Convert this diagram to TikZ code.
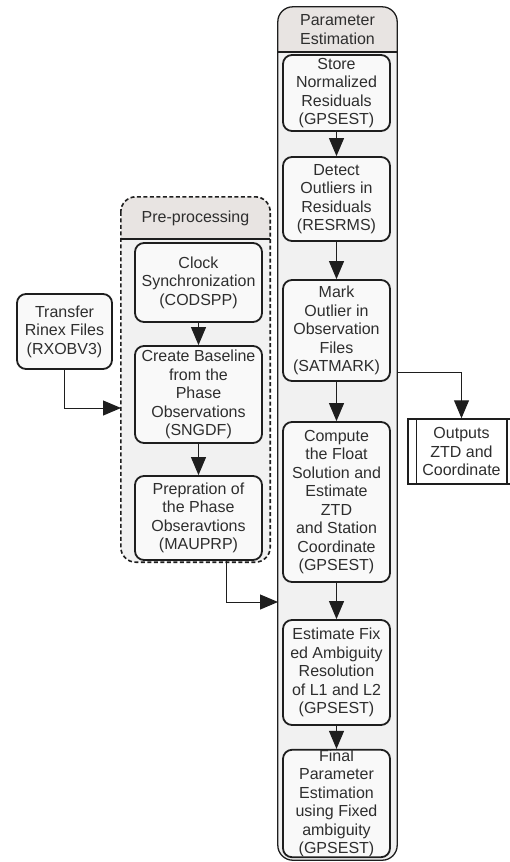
\documentclass[tikz,border=0pt]{standalone}
\usepackage{fontspec}
\setmainfont{Liberation Sans}
\usetikzlibrary{arrows.meta}
\definecolor{boxfill}{HTML}{F9F9F9}
\definecolor{contfill}{HTML}{F1F1F1}
\definecolor{headfill}{HTML}{E8E4E2}
\definecolor{txt}{HTML}{2E2E2E}
\definecolor{edge}{HTML}{1E1E1E}
\begin{document}
\begin{tikzpicture}[x=1pt,y=-1pt,
  font=\fontsize{16}{18.5}\selectfont,
  proc/.style={draw=edge, line width=1.8pt, fill=boxfill, rounded corners=9pt, align=center, text=txt, inner sep=0pt},
  contbox/.style={fill=contfill, inner sep=0pt},
  head/.style={align=center, text=txt, inner sep=0pt},
  arr/.style={draw=edge, line width=1pt, -{Triangle[width=15pt,length=18pt]}},
]
\useasboundingbox (0,0) rectangle (509,862);
\fill[white] (0,0) rectangle (509,862);

% Parameter Estimation container
\node[contbox, rounded corners=15pt, minimum width=119pt, minimum height=853pt] (pe) at (337.5,433.5) {};
\begin{scope}
  \clip (278,7) rectangle (397,52);
  \fill[headfill, rounded corners=15pt] (pe.north west) rectangle (pe.south east);
\end{scope}
\draw[edge, line width=1.3pt, rounded corners=15pt] (pe.north west) rectangle (pe.south east);
\coordinate (peh1) at (278,52);
\coordinate (peh2) at (397,52);
\draw[edge, line width=1.3pt] (peh1) -- (peh2);
\node[head] (pehead) at (337.5,29.5) {Parameter\\Estimation};

% Pre-processing container
\node[contbox, rounded corners=15pt, minimum width=149pt, minimum height=365pt] (pre) at (195.5,379.5) {};
\begin{scope}
  \clip (121,197) rectangle (270,239);
  \fill[headfill, rounded corners=15pt] (pre.north west) rectangle (pre.south east);
\end{scope}
\draw[edge, line width=1.6pt, dash pattern=on 4pt off 2.5pt, rounded corners=15pt] (pre.north west) rectangle (pre.south east);
\coordinate (preh1) at (121,239);
\coordinate (preh2) at (270,239);
\draw[edge, line width=1.3pt] (preh1) -- (preh2);
\node[head] (prehead) at (195.5,218) {Pre-processing};

% Parameter estimation boxes
\node[proc, minimum width=107pt, minimum height=76pt] (store) at (336.5,93) {Store\\Normalized\\Residuals\\(GPSEST)};
\node[proc, minimum width=107pt, minimum height=84pt] (detect) at (336.5,199) {Detect\\Outliers in\\Residuals\\(RESRMS)};
\node[proc, minimum width=107pt, minimum height=101pt] (mark) at (336.5,330.5) {Mark\\Outlier in\\Observation\\Files\\(SATMARK)};
\node[proc, minimum width=107pt, minimum height=160pt] (compute) at (336.5,502) {Compute\\the Float\\Solution and\\Estimate\\ZTD\\and Station\\Coordinate\\(GPSEST)};
\node[proc, minimum width=107pt, minimum height=105pt] (fix) at (336.5,672.5) {Estimate Fix\\ed Ambiguity\\Resolution\\of L1 and L2\\(GPSEST)};
\node[proc, minimum width=107pt, minimum height=107pt] (final) at (336.5,803.5) {Final\\Parameter\\Estimation\\using Fixed\\ambiguity\\(GPSEST)};

% Pre-processing boxes
\node[proc, minimum width=127pt, minimum height=79pt] (clock) at (198.5,282.5) {Clock\\Synchronization\\(CODSPP)};
\node[proc, minimum width=127pt, minimum height=97pt] (create) at (198.5,394.5) {Create Baseline\\from the\\Phase\\Observations\\(SNGDF)};
\node[proc, minimum width=127pt, minimum height=84pt] (prep) at (198.5,518) {Prepration of\\the Phase\\Obseravtions\\(MAUPRP)};

% Transfer
\node[proc, minimum width=95pt, minimum height=75pt] (transfer) at (64.5,331.5) {Transfer\\Rinex Files\\(RXOBV3)};

% Outputs
\node[draw=edge, line width=1.5pt, fill=white, minimum width=107pt, minimum height=65pt, align=center, text=txt, inner sep=0pt] (out) at (461.5,451.5) {Outputs\\ZTD and\\Coordinate};
\draw[edge, line width=1.5pt] ([xshift=9pt]out.north west) -- ([xshift=9pt]out.south west);
\draw[edge, line width=1.5pt] ([xshift=-9pt]out.north east) -- ([xshift=-9pt]out.south east);

% connectors
\draw[arr] (store) -- (detect);
\draw[arr] (detect) -- (mark);
\draw[arr] (mark) -- (compute);
\draw[arr] (compute) -- (fix);
\draw[arr] (fix) -- (final);
\draw[arr] (clock) -- (create);
\draw[arr] (create) -- (prep);

\coordinate (inA) at (121,408);
\draw[arr] (transfer.south) |- (inA);
\coordinate (inB) at (278,602);
\draw[arr] ([xshift=28pt]prep.south) |- (inB);
\coordinate (mo) at (397,340);
\coordinate (mb) at (397,372);
\draw[arr] (mo) -- (mb) -| (out.north);
\end{tikzpicture}
\end{document}
